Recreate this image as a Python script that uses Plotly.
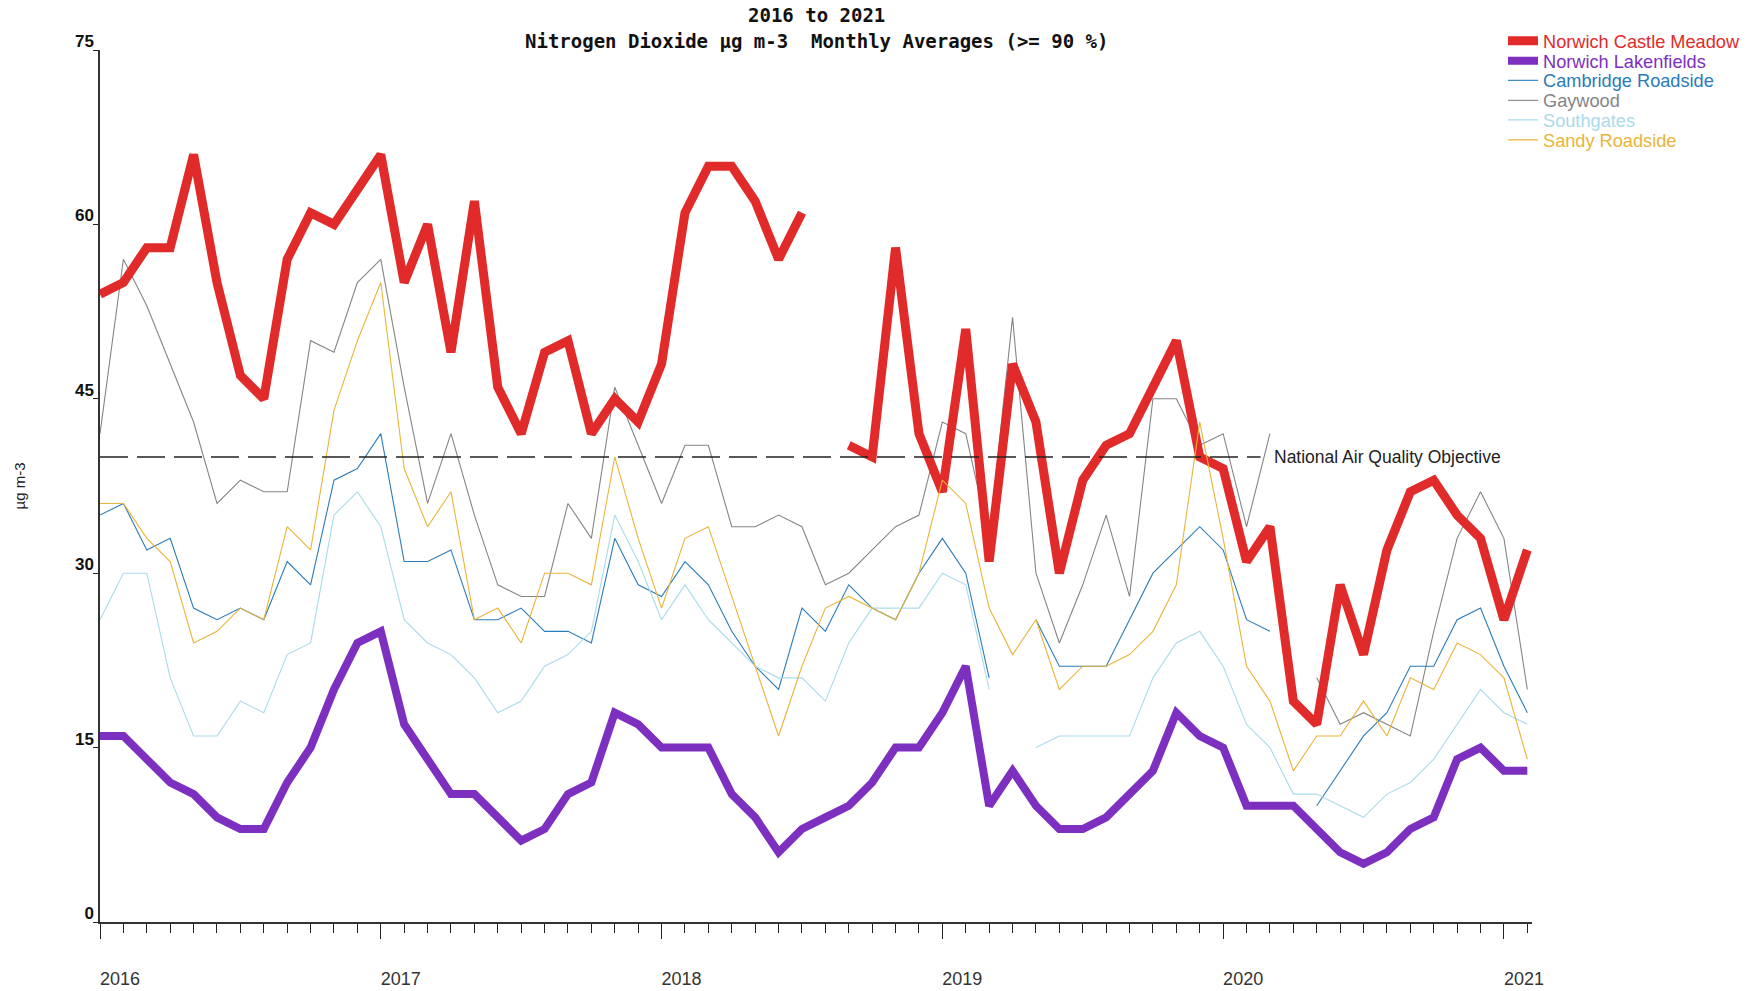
import plotly.graph_objects as go

# Monthly periods, Jan 2016 .. Feb 2021 (62 months)
month_index = list(range(62))
year_tickvals = [0, 12, 24, 36, 48, 60]
year_labels = ["2016", "2017", "2018", "2019", "2020", "2021"]

# NO2 monthly averages (µg m-3); None = month below 90 % data capture
castle_meadow = [
    54, 55, 58, 58, 66, 55, 47, 45, 57, 61, 60, 63,
    66, 55, 60, 49, 62, 46, 42, 49, 50, 42, 45, 43,
    48, 61, 65, 65, 62, 57, 61, None, 41, 40, 58, 42,
    37, 51, 31, 48, 43, 30, 38, 41, 42, 46, 50, 40,
    39, 31, 34, 19, 17, 29, 23, 32, 37, 38, 35, 33,
    26, 32,
]
lakenfields = [
    16, 16, 14, 12, 11, 9, 8, 8, 12, 15, 20, 24,
    25, 17, 14, 11, 11, 9, 7, 8, 11, 12, 18, 17,
    15, 15, 15, 11, 9, 6, 8, 9, 10, 12, 15, 15,
    18, 22, 10, 13, 10, 8, 8, 9, 11, 13, 18, 16,
    15, 10, 10, 10, 8, 6, 5, 6, 8, 9, 14, 15,
    13, 13,
]
cambridge_roadside = [
    35, 36, 32, 33, 27, 26, 27, 26, 31, 29, 38, 39,
    42, 31, 31, 32, 26, 26, 27, 25, 25, 24, 33, 29,
    28, 31, 29, 25, 22, 20, 27, 25, 29, 27, 26, 30,
    33, 30, 21, None, 26, 22, 22, 22, 26, 30, 32, 34,
    32, 26, 25, None, 10, 13, 16, 18, 22, 22, 26, 27,
    22, 18,
]
gaywood = [
    42, 57, 53, 48, 43, 36, 38, 37, 37, 50, 49, 55,
    57, 46, 36, 42, 35, 29, 28, 28, 36, 33, 46, 41,
    36, 41, 41, 34, 34, 35, 34, 29, 30, 32, 34, 35,
    43, 42, 33, 52, 30, 24, 29, 35, 28, 45, 45, 41,
    42, 34, 42, None, 21, 17, 18, 17, 16, 25, 33, 37,
    33, 20,
]
southgates = [
    26, 30, 30, 21, 16, 16, 19, 18, 23, 24, 35, 37,
    34, 26, 24, 23, 21, 18, 19, 22, 23, 25, 35, 31,
    26, 29, 26, 24, 22, 21, 21, 19, 24, 27, 27, 27,
    30, 29, 20, None, 15, 16, 16, 16, 16, 21, 24, 25,
    22, 17, 15, 11, 11, 10, 9, 11, 12, 14, 17, 20,
    18, 17,
]
sandy_roadside = [
    36, 36, 33, 31, 24, 25, 27, 26, 34, 32, 44, 50,
    55, 39, 34, 37, 26, 27, 24, 30, 30, 29, 40, 33,
    27, 33, 34, 28, 22, 16, 22, 27, 28, 27, 26, 30,
    38, 36, 27, 23, 26, 20, 22, 22, 23, 25, 29, 43,
    33, 22, 19, 13, 16, 16, 19, 16, 21, 20, 24, 23,
    21, 14,
]

objective = 40  # National Air Quality Objective, annual mean NO2
objective_label = "National Air Quality Objective"

# Page geometry (px)
W, H = 1754, 991
ML, MR, MT, MB = 100, 222, 50, 69
PLOT_W = W - ML - MR
PLOT_H = H - MT - MB


def paper_x(px):
    return (px - ML) / PLOT_W


def paper_y(px):
    return (H - MB - px) / PLOT_H


# name, values, colour, width, legend slot (top to bottom)
series = [
    ("Gaywood", gaywood, "#858585", 1.1, 3),
    ("Cambridge Roadside", cambridge_roadside, "#2b7bb9", 1.1, 2),
    ("Southgates", southgates, "#a9dbea", 1.1, 4),
    ("Norwich Castle Meadow", castle_meadow, "#e12a2a", 9, 0),
    ("Norwich Lakenfields", lakenfields, "#7d2fbf", 8, 1),
    ("Sandy Roadside", sandy_roadside, "#e9b43a", 1.1, 5),
]
legend_rows_px = [41, 61, 80.5, 100.5, 120, 140]

fig = go.Figure()
layout_legends = {}
for name, values, colour, width, slot in series:
    key = "legend" if slot == 0 else f"legend{slot + 1}"
    fig.add_trace(go.Scatter(
        x=month_index, y=values, name=name, mode="lines",
        line=dict(color=colour, width=width),
        connectgaps=False, legend=key, showlegend=True,
    ))
    layout_legends[key] = dict(
        x=paper_x(1503), y=paper_y(legend_rows_px[slot]),
        xanchor="left", yanchor="middle", visible=True,
        bgcolor="rgba(0,0,0,0)", borderwidth=0,
        font=dict(family="Liberation Sans", size=18.2, color=colour),
    )

# Objective line with its label
fig.add_shape(type="line", xref="x", yref="y", x0=0, x1=49.6,
              y0=objective, y1=objective,
              line=dict(color="#222222", width=1.5, dash="28px,9px"))
fig.add_annotation(x=50.1, y=objective, xref="x", yref="y",
                   text=objective_label, showarrow=False,
                   xanchor="left", yanchor="middle",
                   font=dict(family="Liberation Sans", size=17.5, color="#222222"))

# Two-line heading
title_font = dict(family="DejaVu Sans Mono", size=19, color="#111111", weight="bold")
fig.add_annotation(x=0.5, y=paper_y(15), xref="paper", yref="paper",
                   text="2016 to 2021", showarrow=False,
                   xanchor="center", yanchor="middle", font=title_font)
fig.add_annotation(x=0.5, y=paper_y(41), xref="paper", yref="paper",
                   text="Nitrogen Dioxide µg m-3 \u00a0Monthly Averages (>= 90 %)",
                   showarrow=False, xanchor="center", yanchor="middle",
                   font=title_font)

fig.update_layout(
    width=W, height=H, showlegend=True,
    margin=dict(l=ML, r=MR, t=MT, b=MB, autoexpand=False),
    paper_bgcolor="white", plot_bgcolor="white",
    font=dict(family="Liberation Sans", color="#222222"),
    **layout_legends,
)

fig.update_xaxes(
    range=[0, 61.2], showgrid=False, zeroline=False,
    showline=True, linecolor="#333333", linewidth=1.5,
    tickmode="array", tickvals=year_tickvals, ticktext=year_labels,
    ticks="outside", ticklen=15, tickwidth=1.2, tickcolor="#222222",
    tickfont=dict(family="Liberation Sans", size=18, color="#333333"),
    ticklabelstandoff=25, ticklabelshift=20,
    minor=dict(dtick=1, tick0=0, ticks="outside", ticklen=9,
               tickwidth=1.2, tickcolor="#222222", showgrid=False),
)
fig.update_yaxes(
    range=[0, 75], showgrid=False, zeroline=False,
    showline=True, linecolor="#333333", linewidth=1.5,
    tickmode="array", tickvals=[0, 15, 30, 45, 60, 75],
    ticks="outside", ticklen=5, tickwidth=1.2, tickcolor="#222222",
    tickfont=dict(family="Liberation Sans", size=17, color="#111111", weight="bold"),
    ticklabelshift=-9, ticklabelstandoff=-4,
    title=dict(text="µg m-3", standoff=46,
               font=dict(family="Liberation Sans", size=15, color="#222222")),
)

fig.write_html("out.html")
